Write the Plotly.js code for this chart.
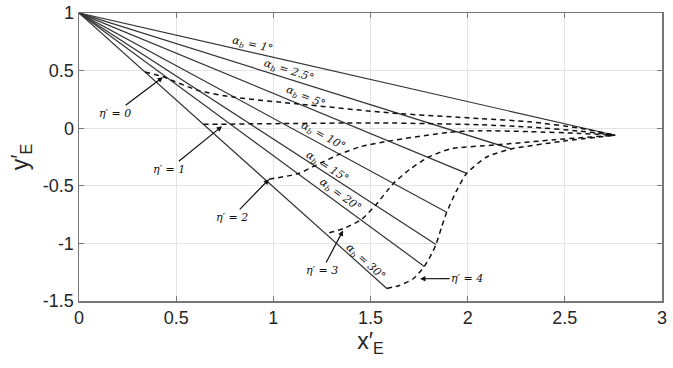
<!DOCTYPE html>
<html>
<head>
<meta charset="utf-8">
<script src="https://cdn.plot.ly/plotly-3.0.1.min.js"></script>
<style>html,body{margin:0;padding:0;background:#fff;}#chart{width:673px;height:368px;}</style>
</head>
<body>
<div id="chart"></div>
<script>
// Solid lines: each alpha_b line runs from the common start point to its end point
const startX = 0;
const startY = 1;
const alphaLabels = ['1°', '2.5°', '5°', '10°', '15°', '20°', '30°'];
const alphaEndX = [2.759, 2.225, 1.995, 1.892, 1.837, 1.777, 1.584];
const alphaEndY = [-0.061, -0.180, -0.392, -0.730, -1.009, -1.200, -1.391];

// Dashed curves of constant eta'
const eta0X = [0.34, 0.434, 0.466, 0.616, 0.80, 1.13, 1.62, 2.06, 2.32, 2.58, 2.759];
const eta0Y = [0.487, 0.446, 0.424, 0.326, 0.268, 0.21, 0.13, 0.084, 0.055, 0.0, -0.061];
const eta1X = [0.64, 0.78, 0.877, 1.048, 1.366, 1.55, 1.79, 2.06, 2.32, 2.58, 2.759];
const eta1Y = [0.034, 0.035, 0.038, 0.04, 0.045, 0.046, 0.04, 0.03, 0.01, -0.026, -0.061];
const eta2X = [0.978, 1.129, 1.215, 1.343, 1.45, 1.6, 1.909, 2.064, 2.32, 2.578, 2.759];
const eta2Y = [-0.443, -0.394, -0.325, -0.225, -0.16, -0.11, -0.035, -0.022, -0.03, -0.045, -0.061];
const eta3X = [1.288, 1.36, 1.455, 1.525, 1.618, 1.70, 1.80, 1.909, 2.14, 2.45, 2.759];
const eta3Y = [-0.907, -0.872, -0.79, -0.67, -0.48, -0.36, -0.25, -0.18, -0.146, -0.10, -0.061];
const eta4X = [1.584, 1.649, 1.72, 1.777, 1.815, 1.837, 1.866, 1.892, 1.944, 1.995, 2.098, 2.225, 2.49, 2.759];
const eta4Y = [-1.391, -1.365, -1.307, -1.200, -1.09, -1.009, -0.858, -0.730, -0.539, -0.392, -0.25, -0.180, -0.113, -0.061];

const etaLabels = ['0', '1', '2', '3', '4'];
const xTicks = [0, 0.5, 1, 1.5, 2, 2.5, 3];
const yTicks = [-1.5, -1, -0.5, 0, 0.5, 1];

const traces = [];
alphaEndX.forEach((ex, i) => {
  traces.push({
    x: [startX, ex], y: [startY, alphaEndY[i]], mode: 'lines', type: 'scatter',
    line: {color: '#333333', width: 1.2}, hoverinfo: 'skip', showlegend: false
  });
});
[[eta0X, eta0Y], [eta1X, eta1Y], [eta2X, eta2Y], [eta3X, eta3Y], [eta4X, eta4Y]].forEach(([xs, ys]) => {
  traces.push({
    x: xs, y: ys, mode: 'lines', type: 'scatter',
    line: {color: '#111111', width: 1.5, dash: '5px,4px', shape: 'spline', smoothing: 0.6},
    hoverinfo: 'skip', showlegend: false
  });
});

const labelFont = {family: 'DejaVu Serif, Liberation Serif, serif', size: 11, color: '#111'};
const alphaLabelPos = [[0.895, 0.722, 12.8], [1.081, 0.496, 17.6], [1.163, 0.270, 22.5], [1.256, -0.070, 28.5], [1.276, -0.339, 33], [1.343, -0.583, 36.2], [1.472, -1.165, 41.8]];
const annotations = alphaLabels.map((lab, i) => ({
  x: alphaLabelPos[i][0], y: alphaLabelPos[i][1], xref: 'x', yref: 'y',
  text: '<i>α<sub>b</sub> = ' + lab + '</i>', showarrow: false,
  textangle: alphaLabelPos[i][2], font: labelFont
}));

const etaLabelPos = [[0.185, 0.13], [0.463, -0.357], [0.787, -0.774], [1.25, -1.235], [1.997, -1.304]];
const etaArrowTip = [[0.432, 0.443], [0.736, 0.017], [0.978, -0.443], [1.359, -0.887], [1.755, -1.307]];
etaLabels.forEach((lab, i) => {
  annotations.push({
    x: etaArrowTip[i][0], y: etaArrowTip[i][1], xref: 'x', yref: 'y',
    ax: etaLabelPos[i][0], ay: etaLabelPos[i][1], axref: 'x', ayref: 'y',
    text: '<i>η′ = ' + lab + '</i>', showarrow: true,
    arrowhead: 2, arrowsize: 0.9, arrowwidth: 1.2, arrowcolor: '#111',
    font: labelFont
  });
});

const layout = {
  width: 673, height: 368,
  margin: {l: 79, r: 11, t: 13, b: 67},
  paper_bgcolor: '#fff', plot_bgcolor: '#fff',
  showlegend: false,
  font: {family: 'Liberation Sans, Arial, sans-serif', color: '#262626'},
  xaxis: {
    range: [0, 3], tickvals: xTicks, ticktext: xTicks.map(String),
    showgrid: true, gridcolor: '#e3e3e3', gridwidth: 1, zeroline: false,
    showline: true, linecolor: '#777', linewidth: 1.5, mirror: 'ticks',
    ticks: 'inside', ticklen: 5, tickcolor: '#777', tickwidth: 1,
    tickfont: {size: 18, color: '#262626'},
    title: {text: 'x′<sub>E</sub>', font: {size: 23, color: '#262626'}, standoff: 4}
  },
  yaxis: {
    range: [-1.5, 1], tickvals: yTicks, ticktext: yTicks.map(String),
    showgrid: true, gridcolor: '#e3e3e3', gridwidth: 1, zeroline: false,
    showline: true, linecolor: '#777', linewidth: 1.5, mirror: 'ticks',
    ticks: 'inside', ticklen: 5, tickcolor: '#777', tickwidth: 1,
    tickfont: {size: 18, color: '#262626'},
    title: {text: 'y′<sub>E</sub>', font: {size: 23, color: '#262626'}, standoff: 8}
  },
  annotations: annotations
};

Plotly.newPlot('chart', traces, layout, {displayModeBar: false, staticPlot: true});
</script>
</body>
</html>
